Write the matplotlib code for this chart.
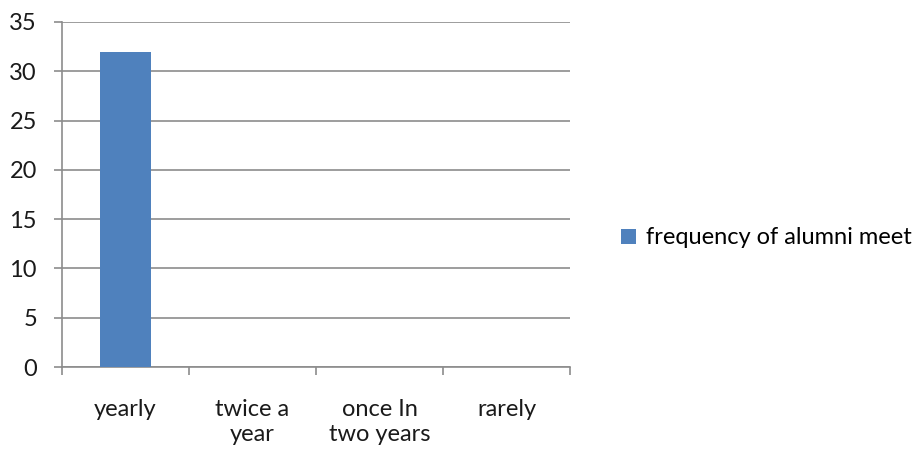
import matplotlib
matplotlib.use("Agg")
import matplotlib.pyplot as plt
from matplotlib.patches import Patch

categories = ["yearly", "twice a\nyear", "once In\ntwo years", "rarely"]
values = [32, 0, 0, 0]
series_name = "frequency of alumni meet"
yticks = [0, 5, 10, 15, 20, 25, 30, 35]

plt.rcParams['font.family'] = ['Lato', 'DejaVu Sans']
FS = 17
fig = plt.figure(figsize=(9.2, 4.59), dpi=100)
ax = fig.add_axes([62/920, 1-367/459, (570-62)/920, (367-22)/459])

x = list(range(len(categories)))
ax.bar(x, values, width=0.4, color="#4F81BD", zorder=3)
ax.set_xlim(-0.5, len(categories)-0.5)
ax.set_ylim(0, 35)
ax.set_yticks(yticks)
ax.set_yticklabels([str(v) for v in yticks], fontsize=FS, color="#1a1a1a")
ax.grid(axis='y', color="#8c8c8c", linewidth=1.2, zorder=0)
ax.tick_params(axis='y', length=6, width=1.2, color="#8c8c8c", pad=12)

ax.set_xticks([i - 0.5 for i in range(len(categories)+1)])
ax.set_xticklabels([])
ax.set_xticks(x, minor=True)
ax.set_xticklabels(categories, minor=True, fontsize=FS, color="#1a1a1a", linespacing=1.25)
ax.tick_params(axis='x', which='major', length=6, width=1.2, color="#8c8c8c", direction='out')
ax.tick_params(axis='x', which='minor', length=0, pad=23)
for lbl in ax.get_xticklabels(minor=True):
    lbl.set_verticalalignment('top')

for s in ['top', 'right']:
    ax.spines[s].set_visible(False)
for s in ['left', 'bottom']:
    ax.spines[s].set_color("#8c8c8c")
    ax.spines[s].set_linewidth(1.2)

handle = Patch(facecolor="#4F81BD", edgecolor="none")
fig.legend([handle], [series_name], loc='center left', bbox_to_anchor=(612/920, 1-238/459),
           frameon=False, fontsize=FS, handlelength=0.62, handleheight=0.62,
           handletextpad=0.4, borderaxespad=0)

fig.savefig("out.png", dpi=100)
